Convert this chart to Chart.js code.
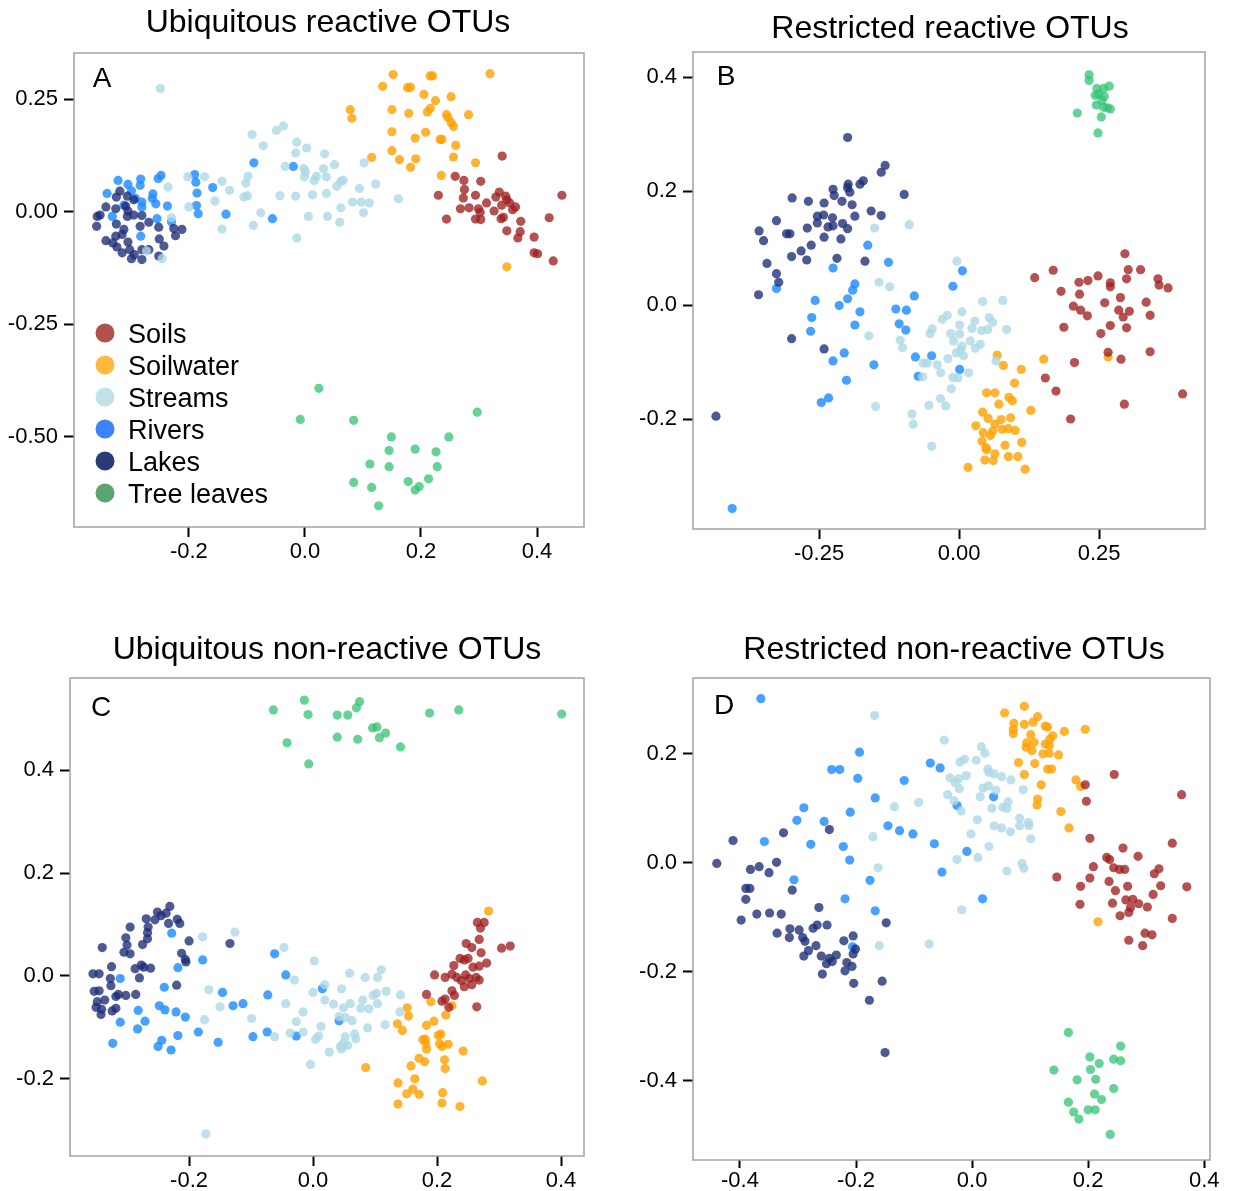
<!DOCTYPE html>
<html><head><meta charset="utf-8">
<script src="https://cdn.jsdelivr.net/npm/chart.js@4.4.1/dist/chart.umd.min.js"></script>
<style>
body{margin:0;background:#fff;width:1233px;height:1191px;position:relative;overflow:hidden;font-family:"Liberation Sans",Arial,sans-serif;color:#000;}
canvas{position:absolute;}
.txt{position:absolute;white-space:nowrap;line-height:1;transform:translate(-50%,-50%);}
.title{font-size:32px;}
.letter{font-size:28px;}
.leg{position:absolute;font-size:27px;line-height:1;white-space:nowrap;transform:translateY(-50%);}
.dot{position:absolute;width:19px;height:19px;border-radius:50%;transform:translate(-50%,-50%);}
</style></head>
<body>
<canvas id="cA"></canvas><canvas id="cB"></canvas><canvas id="cC"></canvas><canvas id="cD"></canvas>
<script>
// ---------- categories ----------
const categories = ['Soils','Soilwater','Streams','Rivers','Lakes','Tree leaves'];
const titles = ['Ubiquitous reactive OTUs','Restricted reactive OTUs','Ubiquitous non-reactive OTUs','Restricted non-reactive OTUs'];
const letters = ['A','B','C','D'];

// ---------- tick values ----------
const xTicksA=[-0.2,0,0.2,0.4],  yTicksA=[-0.5,-0.25,0,0.25];
const xTicksB=[-0.25,0,0.25],    yTicksB=[-0.2,0,0.2,0.4];
const xTicksC=[-0.2,0,0.2,0.4],  yTicksC=[-0.2,0,0.2,0.4];
const xTicksD=[-0.4,-0.2,0,0.2,0.4], yTicksD=[-0.4,-0.2,0,0.2];

// ---------- Panel A : Ubiquitous reactive ----------
const aSoils=[[0.340,0.124],[0.259,0.079],[0.274,0.070],[0.303,0.068],[0.275,0.050],[0.230,0.037],[0.273,0.031],[0.294,0.037],[0.329,0.033],[0.335,0.044],[0.346,0.035],[0.348,0.027],[0.443,0.037],[0.313,0.020],[0.353,0.020],[0.339,0.015],[0.363,0.011],[0.358,0.005],[0.268,0.007],[0.283,0.009],[0.299,0.007],[0.302,-0.001],[0.326,0.002],[0.244,-0.016],[0.294,-0.016],[0.303,-0.017],[0.338,-0.015],[0.342,-0.012],[0.372,-0.021],[0.421,-0.013],[0.348,-0.042],[0.371,-0.044],[0.367,-0.058],[0.395,-0.056],[0.395,-0.091],[0.401,-0.093],[0.428,-0.109]];
const aSoilwater=[[0.152,0.305],[0.216,0.302],[0.220,0.302],[0.319,0.307],[0.134,0.279],[0.177,0.276],[0.182,0.277],[0.205,0.261],[0.225,0.247],[0.252,0.256],[0.078,0.227],[0.081,0.208],[0.150,0.227],[0.179,0.219],[0.211,0.222],[0.216,0.230],[0.244,0.216],[0.247,0.209],[0.252,0.198],[0.256,0.190],[0.282,0.216],[0.150,0.178],[0.208,0.177],[0.190,0.164],[0.233,0.161],[0.236,0.161],[0.260,0.148],[0.150,0.136],[0.115,0.121],[0.163,0.116],[0.191,0.118],[0.182,0.099],[0.256,0.122],[0.294,0.109],[0.235,0.081],[0.348,-0.122]];
const aStreams=[[-0.249,0.274],[-0.091,0.172],[-0.049,0.181],[-0.037,0.191],[-0.072,0.147],[-0.014,0.155],[-0.016,0.131],[0.003,0.142],[0.034,0.129],[0.051,0.105],[-0.034,0.101],[-0.002,0.096],[0.032,0.096],[0.001,0.090],[-0.001,0.078],[0.020,0.079],[0.016,0.070],[0.037,0.078],[0.062,0.068],[0.055,0.057],[0.037,0.041],[0.013,0.038],[-0.016,0.035],[-0.043,0.036],[0.062,0.009],[0.039,-0.010],[0.006,-0.010],[0.060,-0.023],[-0.014,-0.058],[-0.076,-0.002],[-0.089,-0.030],[-0.105,0.033],[-0.099,0.036],[-0.102,0.064],[-0.098,0.079],[-0.143,0.068],[-0.130,0.048],[-0.155,0.024],[-0.143,-0.038],[-0.173,0.078],[-0.202,0.078],[-0.200,0.011],[-0.236,0.055],[-0.230,-0.013],[-0.273,-0.087],[-0.246,-0.104],[0.102,0.109],[0.066,0.070],[0.094,0.052],[0.122,0.062],[0.082,0.022],[0.097,0.022],[0.111,0.020],[0.101,-0.002],[0.161,0.029]];
const aRivers=[[-0.088,0.109],[-0.020,0.101],[-0.056,-0.015],[-0.136,-0.005],[-0.159,0.054],[-0.190,0.083],[-0.188,0.066],[-0.186,0.042],[-0.187,0.014],[-0.184,-0.004],[-0.248,0.081],[-0.253,0.074],[-0.283,0.073],[-0.284,0.059],[-0.322,0.070],[-0.305,0.061],[-0.299,0.047],[-0.341,0.041],[-0.262,0.040],[-0.263,0.030],[-0.257,0.018],[-0.281,0.022],[-0.281,0.011],[-0.312,0.015],[-0.237,0.013],[-0.255,-0.015],[-0.230,-0.022],[-0.332,-0.010],[-0.283,-0.054],[-0.292,0.030]];
const aLakes=[[-0.319,0.046],[-0.325,0.033],[-0.306,0.035],[-0.295,0.027],[-0.343,0.011],[-0.326,0.007],[-0.309,0.013],[-0.305,0.002],[-0.353,-0.007],[-0.358,-0.010],[-0.306,-0.010],[-0.295,-0.007],[-0.281,-0.008],[-0.359,-0.032],[-0.325,-0.027],[-0.284,-0.032],[-0.269,-0.023],[-0.252,-0.034],[-0.226,-0.037],[-0.212,-0.039],[-0.223,-0.053],[-0.312,-0.039],[-0.315,-0.050],[-0.326,-0.054],[-0.343,-0.064],[-0.331,-0.069],[-0.305,-0.067],[-0.251,-0.060],[-0.324,-0.078],[-0.302,-0.084],[-0.315,-0.091],[-0.294,-0.095],[-0.281,-0.084],[-0.269,-0.084],[-0.243,-0.076],[-0.299,-0.104],[-0.281,-0.106],[-0.252,-0.098]];
const aTree=[[0.024,-0.392],[-0.008,-0.461],[0.084,-0.463],[0.297,-0.445],[0.149,-0.500],[0.248,-0.500],[0.145,-0.530],[0.190,-0.527],[0.226,-0.533],[0.112,-0.560],[0.145,-0.566],[0.228,-0.566],[0.084,-0.601],[0.115,-0.612],[0.178,-0.599],[0.213,-0.593],[0.197,-0.610],[0.190,-0.618],[0.127,-0.653]];

// ---------- Panel B : Restricted reactive ----------
const bSoils=[[0.296,0.090],[0.168,0.061],[0.135,0.048],[0.248,0.051],[0.302,0.062],[0.324,0.062],[0.230,0.043],[0.214,0.040],[0.270,0.039],[0.270,0.032],[0.299,0.046],[0.355,0.046],[0.357,0.035],[0.373,0.030],[0.182,0.024],[0.215,0.019],[0.288,0.013],[0.260,0.004],[0.334,0.005],[0.204,-0.002],[0.217,-0.009],[0.229,-0.019],[0.285,-0.009],[0.304,-0.011],[0.293,-0.021],[0.341,-0.018],[0.187,-0.039],[0.270,-0.036],[0.299,-0.040],[0.253,-0.050],[0.266,-0.083],[0.341,-0.082],[0.206,-0.101],[0.289,-0.095],[0.154,-0.128],[0.173,-0.151],[0.399,-0.156],[0.295,-0.174],[0.199,-0.200]];
const bSoilwater=[[0.068,-0.088],[0.079,-0.106],[0.111,-0.113],[0.151,-0.095],[0.099,-0.137],[0.049,-0.154],[0.064,-0.154],[0.089,-0.162],[0.095,-0.168],[0.071,-0.174],[0.128,-0.185],[0.042,-0.188],[0.052,-0.199],[0.075,-0.201],[0.092,-0.198],[0.030,-0.212],[0.064,-0.209],[0.077,-0.218],[0.088,-0.217],[0.100,-0.220],[0.043,-0.224],[0.060,-0.221],[0.056,-0.229],[0.041,-0.239],[0.082,-0.246],[0.112,-0.241],[0.048,-0.250],[0.049,-0.254],[0.064,-0.261],[0.088,-0.266],[0.105,-0.266],[0.046,-0.272],[0.061,-0.273],[0.016,-0.285],[0.118,-0.288],[0.266,-0.091]];
const bStreams=[[-0.151,0.135],[-0.089,0.141],[-0.143,0.040],[-0.124,0.032],[-0.004,0.077],[0.042,0.006],[0.078,0.008],[-0.021,-0.018],[-0.030,-0.025],[0.005,-0.012],[0.001,-0.035],[0.028,-0.028],[0.054,-0.022],[0.060,-0.030],[0.023,-0.041],[0.040,-0.045],[0.051,-0.043],[0.085,-0.043],[-0.048,-0.042],[-0.052,-0.050],[-0.015,-0.050],[0.001,-0.051],[-0.161,-0.054],[-0.105,-0.062],[-0.101,-0.075],[-0.010,-0.063],[0.020,-0.063],[0.005,-0.072],[0.003,-0.079],[-0.005,-0.084],[0.008,-0.089],[0.029,-0.076],[0.038,-0.069],[-0.020,-0.094],[-0.039,-0.105],[-0.064,-0.102],[-0.057,-0.102],[-0.033,-0.119],[-0.065,-0.126],[-0.011,-0.127],[-0.002,-0.128],[0.017,-0.119],[-0.014,-0.147],[0.066,-0.098],[-0.033,-0.164],[-0.054,-0.176],[-0.024,-0.177],[-0.149,-0.178],[-0.084,-0.191],[-0.082,-0.209],[-0.049,-0.248]];
const bRivers=[[-0.163,0.105],[-0.126,0.075],[-0.225,0.065],[-0.186,0.037],[-0.190,0.026],[-0.326,0.029],[-0.257,0.008],[-0.199,0.011],[-0.080,0.016],[-0.011,0.033],[0.006,0.060],[-0.214,-0.001],[-0.177,-0.012],[-0.263,-0.022],[-0.265,-0.046],[-0.186,-0.035],[-0.113,-0.007],[-0.094,-0.009],[-0.107,-0.033],[-0.095,-0.044],[-0.205,-0.084],[-0.225,-0.098],[-0.152,-0.105],[-0.201,-0.132],[-0.233,-0.163],[-0.246,-0.171],[-0.078,-0.091],[-0.049,-0.089],[0.001,-0.113],[-0.073,-0.125],[-0.405,-0.357]];
const bLakes=[[-0.199,0.294],[-0.132,0.245],[-0.139,0.233],[-0.171,0.218],[-0.177,0.212],[-0.198,0.212],[-0.199,0.206],[-0.225,0.203],[-0.195,0.198],[-0.223,0.192],[-0.098,0.194],[-0.298,0.188],[-0.269,0.182],[-0.209,0.182],[-0.241,0.179],[-0.191,0.176],[-0.157,0.165],[-0.139,0.157],[-0.186,0.156],[-0.253,0.156],[-0.242,0.158],[-0.226,0.153],[-0.326,0.148],[-0.253,0.144],[-0.208,0.143],[-0.225,0.139],[-0.234,0.137],[-0.271,0.135],[-0.199,0.134],[-0.357,0.130],[-0.308,0.125],[-0.302,0.125],[-0.349,0.113],[-0.241,0.119],[-0.211,0.116],[-0.264,0.105],[-0.282,0.095],[-0.299,0.085],[-0.272,0.079],[-0.218,0.082],[-0.168,0.077],[-0.343,0.073],[-0.326,0.055],[-0.322,0.040],[-0.358,0.018],[-0.299,-0.059],[-0.241,-0.077],[-0.434,-0.195]];
const bTree=[[0.232,0.404],[0.232,0.394],[0.246,0.380],[0.258,0.380],[0.268,0.384],[0.243,0.368],[0.249,0.370],[0.259,0.366],[0.255,0.359],[0.245,0.351],[0.258,0.347],[0.265,0.346],[0.270,0.344],[0.211,0.337],[0.254,0.330],[0.248,0.302]];

// ---------- Panel C : Ubiquitous non-reactive ----------
const cSoils=[[0.265,0.104],[0.276,0.104],[0.270,0.093],[0.268,0.071],[0.247,0.063],[0.256,0.055],[0.304,0.054],[0.318,0.058],[0.271,0.045],[0.237,0.034],[0.244,0.031],[0.250,0.034],[0.280,0.025],[0.227,0.020],[0.258,0.017],[0.268,0.019],[0.196,0.002],[0.213,-0.003],[0.224,0.003],[0.232,-0.003],[0.246,0.002],[0.252,-0.005],[0.263,-0.003],[0.268,-0.008],[0.239,-0.009],[0.256,-0.017],[0.244,-0.021],[0.183,-0.036],[0.224,-0.029],[0.228,-0.038],[0.208,-0.049],[0.213,-0.045],[0.219,-0.061],[0.264,-0.060]];
const cSoilwater=[[0.283,0.126],[0.190,-0.050],[0.224,-0.058],[0.152,-0.062],[0.154,-0.078],[0.214,-0.076],[0.136,-0.093],[0.144,-0.106],[0.183,-0.096],[0.195,-0.088],[0.202,-0.116],[0.206,-0.113],[0.177,-0.124],[0.181,-0.123],[0.182,-0.132],[0.204,-0.132],[0.208,-0.137],[0.218,-0.133],[0.183,-0.142],[0.242,-0.146],[0.171,-0.160],[0.180,-0.167],[0.212,-0.163],[0.158,-0.175],[0.213,-0.180],[0.085,-0.178],[0.164,-0.200],[0.273,-0.204],[0.137,-0.208],[0.161,-0.220],[0.151,-0.229],[0.171,-0.230],[0.209,-0.227],[0.137,-0.249],[0.208,-0.247],[0.237,-0.254]];
const cStreams=[[-0.178,0.076],[-0.126,0.085],[-0.168,-0.027],[-0.150,-0.060],[-0.175,-0.085],[-0.099,-0.083],[-0.047,0.055],[-0.030,-0.008],[0.002,0.029],[0.019,-0.017],[0.000,-0.032],[-0.044,-0.054],[-0.016,-0.070],[-0.027,-0.089],[-0.016,-0.109],[-0.037,-0.111],[-0.062,-0.118],[0.013,-0.098],[0.009,-0.117],[0.004,-0.123],[0.026,-0.148],[-0.004,-0.172],[0.019,-0.047],[0.059,0.005],[0.110,0.012],[0.084,-0.003],[0.104,-0.003],[0.046,-0.025],[0.102,-0.034],[0.097,-0.038],[0.118,-0.030],[0.141,-0.037],[0.033,-0.055],[0.060,-0.054],[0.049,-0.062],[0.080,-0.047],[0.077,-0.063],[0.090,-0.064],[0.104,-0.054],[0.140,-0.070],[0.042,-0.079],[0.052,-0.081],[0.063,-0.087],[0.088,-0.101],[0.116,-0.095],[0.052,-0.118],[0.067,-0.113],[0.069,-0.122],[0.049,-0.131],[0.044,-0.137],[0.046,-0.142],[0.056,-0.135],[-0.173,-0.307]];
const cRivers=[[-0.228,0.083],[-0.178,0.031],[-0.218,0.016],[-0.311,-0.005],[-0.240,-0.022],[-0.146,-0.032],[-0.248,-0.058],[-0.239,-0.066],[-0.221,-0.070],[-0.206,-0.080],[-0.129,-0.058],[-0.113,-0.054],[-0.282,-0.067],[-0.271,-0.088],[-0.311,-0.090],[-0.283,-0.103],[-0.218,-0.116],[-0.185,-0.109],[-0.244,-0.125],[-0.250,-0.137],[-0.229,-0.144],[-0.323,-0.131],[-0.153,-0.129],[-0.062,0.043],[-0.044,0.002],[-0.073,-0.037],[-0.097,-0.118],[-0.074,-0.109],[-0.027,-0.117],[0.015,-0.025],[0.042,-0.087]];
const cLakes=[[-0.231,0.135],[-0.251,0.124],[-0.237,0.122],[-0.245,0.117],[-0.269,0.111],[-0.255,0.109],[-0.219,0.110],[-0.215,0.102],[-0.233,0.102],[-0.295,0.095],[-0.266,0.095],[-0.267,0.084],[-0.302,0.074],[-0.267,0.072],[-0.300,0.060],[-0.275,0.061],[-0.200,0.068],[-0.340,0.055],[-0.305,0.046],[-0.295,0.043],[-0.212,0.044],[-0.206,0.032],[-0.205,0.027],[-0.134,0.063],[-0.325,0.018],[-0.277,0.021],[-0.287,0.014],[-0.273,0.017],[-0.262,0.015],[-0.355,0.004],[-0.345,0.004],[-0.327,-0.005],[-0.280,-0.004],[-0.326,-0.019],[-0.220,-0.018],[-0.353,-0.030],[-0.345,-0.029],[-0.314,-0.036],[-0.318,-0.040],[-0.302,-0.038],[-0.286,-0.036],[-0.336,-0.047],[-0.348,-0.050],[-0.350,-0.061],[-0.341,-0.065],[-0.318,-0.063],[-0.324,-0.068],[-0.342,-0.075]];
const cTree=[[-0.064,0.517],[-0.014,0.536],[-0.008,0.508],[-0.042,0.453],[-0.007,0.412],[0.039,0.507],[0.056,0.507],[0.070,0.521],[0.075,0.533],[0.039,0.464],[0.072,0.460],[0.096,0.482],[0.103,0.484],[0.117,0.472],[0.107,0.463],[0.141,0.445],[0.188,0.511],[0.235,0.517],[0.401,0.509]];

// ---------- Panel D : Restricted non-reactive ----------
const dSoils=[[0.245,0.162],[0.195,0.143],[0.197,0.113],[0.361,0.125],[0.203,0.045],[0.345,0.036],[0.260,0.027],[0.286,0.012],[0.232,0.010],[0.237,0.006],[0.209,-0.007],[0.244,-0.009],[0.254,-0.012],[0.263,-0.012],[0.322,-0.011],[0.314,-0.020],[0.146,-0.026],[0.203,-0.028],[0.236,-0.034],[0.325,-0.042],[0.370,-0.044],[0.187,-0.043],[0.268,-0.043],[0.247,-0.051],[0.312,-0.058],[0.265,-0.068],[0.277,-0.067],[0.287,-0.075],[0.302,-0.081],[0.242,-0.074],[0.186,-0.076],[0.273,-0.082],[0.270,-0.091],[0.255,-0.097],[0.345,-0.102],[0.298,-0.129],[0.310,-0.132],[0.270,-0.142],[0.294,-0.152]];
const dSoilwater=[[0.090,0.287],[0.056,0.275],[0.113,0.268],[0.072,0.256],[0.090,0.254],[0.105,0.258],[0.126,0.251],[0.130,0.249],[0.071,0.245],[0.071,0.237],[0.159,0.241],[0.195,0.245],[0.101,0.235],[0.139,0.233],[0.134,0.227],[0.107,0.221],[0.094,0.220],[0.093,0.212],[0.126,0.218],[0.133,0.215],[0.103,0.206],[0.122,0.200],[0.133,0.201],[0.149,0.198],[0.080,0.184],[0.108,0.182],[0.130,0.172],[0.137,0.172],[0.090,0.162],[0.179,0.152],[0.187,0.140],[0.119,0.143],[0.113,0.117],[0.112,0.106],[0.153,0.094],[0.167,0.064],[0.217,-0.108]];
const dStreams=[[-0.168,0.270],[-0.048,0.225],[0.016,0.213],[0.022,0.201],[0.007,0.188],[-0.013,0.190],[-0.021,0.185],[0.027,0.172],[-0.038,0.156],[-0.023,0.154],[-0.010,0.160],[-0.029,0.147],[-0.022,0.136],[-0.042,0.125],[0.019,0.137],[0.014,0.121],[-0.031,0.114],[-0.019,0.095],[-0.092,0.111],[-0.134,0.103],[0.009,0.079],[-0.002,0.053],[0.029,0.030],[0.010,0.010],[-0.026,0.006],[-0.171,0.048],[-0.162,-0.009],[-0.018,-0.086],[-0.160,-0.152],[-0.074,-0.149],[0.038,0.163],[0.051,0.158],[0.029,0.166],[0.067,0.152],[0.028,0.141],[0.041,0.133],[0.088,0.134],[0.062,0.112],[0.053,0.102],[0.060,0.100],[0.034,0.100],[0.082,0.082],[0.097,0.074],[0.038,0.068],[0.051,0.064],[0.082,0.068],[0.098,0.068],[0.066,0.057],[0.101,0.044],[0.086,-0.001],[0.089,-0.010],[0.060,-0.015]];
const dRivers=[[-0.364,0.301],[-0.194,0.203],[-0.242,0.171],[-0.228,0.171],[-0.197,0.155],[-0.072,0.183],[-0.055,0.174],[-0.117,0.151],[-0.167,0.119],[-0.290,0.101],[-0.302,0.078],[-0.255,0.076],[-0.210,0.093],[-0.145,0.068],[-0.125,0.059],[-0.102,0.053],[-0.358,0.039],[-0.278,0.034],[-0.222,0.030],[-0.065,0.035],[-0.211,0.005],[-0.009,0.021],[-0.052,-0.017],[-0.307,-0.031],[-0.176,-0.032],[0.018,-0.066],[-0.219,-0.066],[-0.167,-0.088],[-0.026,0.105],[-0.206,-0.154],[0.037,0.121]];
const dLakes=[[-0.412,0.041],[-0.325,0.055],[-0.246,0.061],[-0.440,-0.001],[-0.337,0.001],[-0.367,-0.007],[-0.382,-0.012],[-0.350,-0.018],[-0.390,-0.047],[-0.383,-0.047],[-0.310,-0.050],[-0.390,-0.067],[-0.398,-0.105],[-0.371,-0.094],[-0.349,-0.092],[-0.329,-0.094],[-0.264,-0.082],[-0.148,-0.110],[-0.336,-0.129],[-0.314,-0.121],[-0.298,-0.123],[-0.274,-0.120],[-0.267,-0.114],[-0.250,-0.114],[-0.315,-0.137],[-0.292,-0.137],[-0.288,-0.144],[-0.205,-0.134],[-0.221,-0.143],[-0.269,-0.152],[-0.282,-0.161],[-0.201,-0.158],[-0.290,-0.171],[-0.260,-0.171],[-0.246,-0.175],[-0.234,-0.169],[-0.205,-0.167],[-0.251,-0.185],[-0.241,-0.181],[-0.258,-0.204],[-0.216,-0.183],[-0.207,-0.190],[-0.219,-0.198],[-0.204,-0.221],[-0.155,-0.217],[-0.177,-0.252],[-0.150,-0.348]];
const dTree=[[0.166,-0.311],[0.256,-0.336],[0.203,-0.356],[0.219,-0.368],[0.244,-0.360],[0.256,-0.363],[0.141,-0.380],[0.204,-0.379],[0.181,-0.398],[0.213,-0.397],[0.244,-0.414],[0.211,-0.424],[0.223,-0.434],[0.166,-0.439],[0.175,-0.457],[0.200,-0.453],[0.212,-0.453],[0.184,-0.470],[0.238,-0.498]];

// ---------- styles ----------
const pointColors = ['rgba(160,32,32,0.78)','rgba(255,160,0,0.8)','rgba(173,216,230,0.8)','rgba(30,140,255,0.82)','rgba(28,44,118,0.78)','rgba(50,195,115,0.75)'];
const legendColors = ['#b2514b','#ffb940','#c3e1eb','#3c82fa','#2a3c78','#5aa56e'];
const drawOrder = [2,3,1,5,4,0]; // smaller = drawn on top

Chart.defaults.font.family = '"Liberation Sans", Arial, sans-serif';
Chart.defaults.color = '#000';

const boxPlugin = {id:'box', afterDatasetsDraw(chart){
  const {ctx, chartArea:a} = chart;
  ctx.save(); ctx.strokeStyle='#a2a2a2'; ctx.lineWidth=1.5;
  ctx.strokeRect(a.left, a.top, a.right-a.left, a.bottom-a.top); ctx.restore();
}};

const panels = [
  {id:'cA', groups:[aSoils,aSoilwater,aStreams,aRivers,aLakes,aTree], area:[74,53,584,527], xr:[-0.398,0.481], yr:[-0.700,0.353], xt:xTicksA, yt:yTicksA, xd:1, yd:2, title:[328,21], letter:[102,78], tl:10, xp:2},
  {id:'cB', groups:[bSoils,bSoilwater,bStreams,bRivers,bLakes,bTree], area:[693,52,1205,529], xr:[-0.475,0.439], yr:[-0.393,0.444], xt:xTicksB, yt:yTicksB, xd:2, yd:1, title:[950,27], letter:[726,76], tl:10, xp:2},
  {id:'cC', groups:[cSoils,cSoilwater,cStreams,cRivers,cLakes,cTree], area:[70,678,584,1156], xr:[-0.392,0.437], yr:[-0.350,0.579], xt:xTicksC, yt:yTicksC, xd:1, yd:1, title:[327,648], letter:[101,707], tl:10, xp:2},
  {id:'cD', groups:[dSoils,dSoilwater,dStreams,dRivers,dLakes,dTree], area:[693,678,1210,1160], xr:[-0.481,0.410], yr:[-0.545,0.339], xt:xTicksD, yt:yTicksD, xd:1, yd:1, title:[954,648], letter:[724,705], tl:8, xp:0}
];

const YW=66, PT=26, XH=50, PR=18;
panels.forEach((p,pi)=>{
  const el = document.getElementById(p.id);
  const [L,T,R,B] = p.area;
  const W = YW+(R-L)+PR, H = PT+(B-T)+XH;
  el.width=W; el.height=H;
  el.style.width=W+'px'; el.style.height=H+'px';
  el.style.left=(L-YW)+'px'; el.style.top=(T-PT)+'px';
  const datasets = p.groups.map((g,i)=>({
    label: categories[i],
    data: g.map(([x,y])=>({x,y})),
    backgroundColor: pointColors[i],
    borderWidth: 0,
    pointRadius: 4.6,
    pointHoverRadius: 4.6,
    order: drawOrder[i]
  }));
  const xGrid = {display:true, drawOnChartArea:false, drawTicks:true, tickLength:p.tl, tickColor:'#000', tickWidth:2};
  const yGrid = {display:true, drawOnChartArea:false, drawTicks:true, tickLength:10, tickColor:'#000', tickWidth:2};
  new Chart(el, {
    type:'scatter',
    data:{datasets},
    plugins:[boxPlugin],
    options:{
      responsive:false, animation:false, devicePixelRatio:1,
      layout:{padding:{left:0, top:PT, right:PR, bottom:0}},
      plugins:{legend:{display:false}, tooltip:{enabled:false}, title:{display:false}},
      scales:{
        x:{type:'linear', min:p.xr[0], max:p.xr[1],
           afterBuildTicks:s=>{s.ticks=p.xt.map(v=>({value:v}));},
           afterFit:s=>{s.height=XH;},
           ticks:{callback:v=>Number(v).toFixed(p.xd), font:{size:22}, color:'#000', padding:p.xp, maxRotation:0, autoSkip:false},
           grid:xGrid, border:{display:false}},
        y:{type:'linear', min:p.yr[0], max:p.yr[1],
           afterBuildTicks:s=>{s.ticks=p.yt.map(v=>({value:v}));},
           afterFit:s=>{s.width=YW;},
           ticks:{callback:v=>Number(v).toFixed(p.yd), font:{size:22}, color:'#000', padding:6, autoSkip:false},
           grid:yGrid, border:{display:false}}
      }
    }
  });
  const t = document.createElement('div');
  t.className='txt title'; t.textContent=titles[pi];
  t.style.left=p.title[0]+'px'; t.style.top=p.title[1]+'px';
  document.body.appendChild(t);
  const l = document.createElement('div');
  l.className='txt letter'; l.textContent=letters[pi];
  l.style.left=p.letter[0]+'px'; l.style.top=p.letter[1]+'px';
  document.body.appendChild(l);
});

// legend in panel A
categories.forEach((c,i)=>{
  const y = 333 + i*32;
  const d = document.createElement('div');
  d.className='dot'; d.style.left='105px'; d.style.top=y+'px'; d.style.background=legendColors[i];
  document.body.appendChild(d);
  const s = document.createElement('div');
  s.className='leg'; s.textContent=c; s.style.left='128px'; s.style.top=(y+1)+'px';
  document.body.appendChild(s);
});
</script>
</body></html>
